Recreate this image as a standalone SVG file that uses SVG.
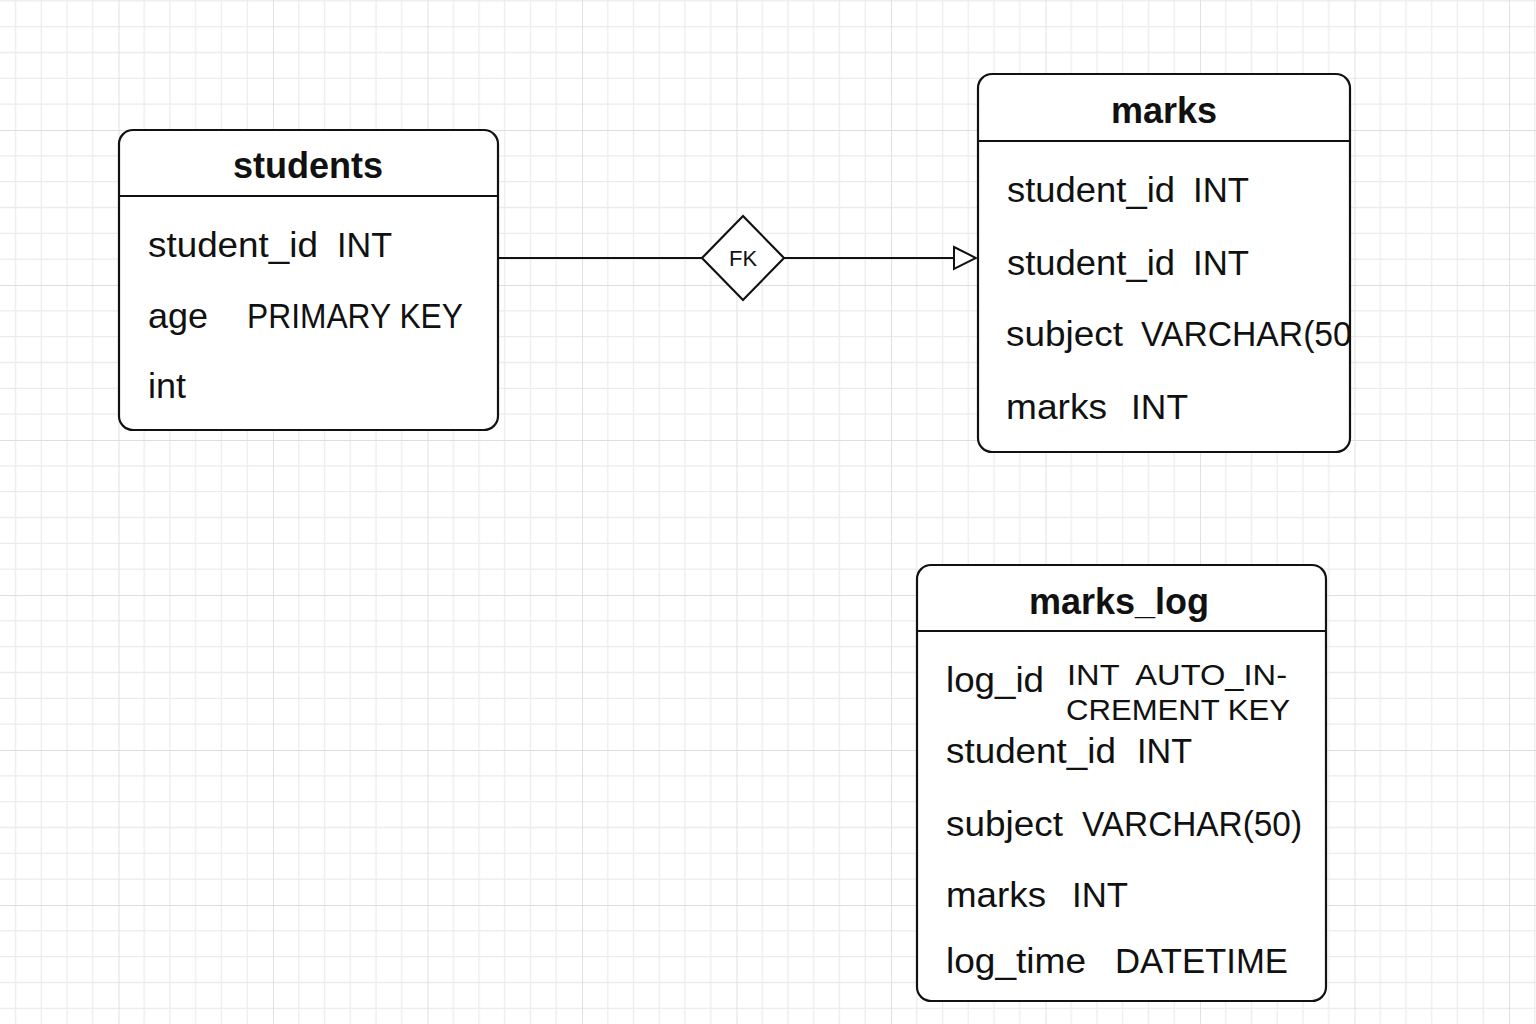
<svg xmlns="http://www.w3.org/2000/svg" width="1536" height="1024" viewBox="0 0 1536 1024">
  <style>
    .box { fill: #ffffff; stroke: #111111; stroke-width: 2.2; }
    .sep { stroke: #111111; stroke-width: 2; }
    .title { font-family: "Liberation Sans", Arial, sans-serif; font-weight: bold; font-size: 36px; fill: #111111; text-anchor: middle; }
    .row { font-family: "Liberation Sans", Arial, sans-serif; font-size: 35px; fill: #111111; }
    .small { font-family: "Liberation Sans", Arial, sans-serif; font-size: 30px; fill: #111111; }
    .conn { stroke: #111111; stroke-width: 2; fill: none; }
    .fk { font-family: "Liberation Sans", Arial, sans-serif; font-size: 22px; fill: #111111; text-anchor: middle; }
  </style>
  <defs>
    <pattern id="grid" x="-36" y="-25" width="154.5" height="155" patternUnits="userSpaceOnUse">
      <path d="M25.75 0V155M51.5 0V155M77.25 0V155M103 0V155M128.75 0V155M0 25.8H154.5M0 51.6H154.5M0 77.5H154.5M0 103.3H154.5M0 129.2H154.5" stroke="#ececec" stroke-width="1.3" fill="none"/>
      <path d="M0 0V155M0 0H154.5" stroke="#dedede" stroke-width="1.8" fill="none"/>
    </pattern>
    <marker id="hollow" viewBox="0 0 24 26" refX="23" refY="13" markerWidth="24" markerHeight="26" markerUnits="userSpaceOnUse" orient="auto">
      <path d="M1 2 L23 13 L1 24 Z" fill="#ffffff" stroke="#111111" stroke-width="2"/>
    </marker>
    <clipPath id="marksClip">
      <rect x="978" y="74" width="374" height="378"/>
    </clipPath>
  </defs>

  <rect width="1536" height="1024" fill="#ffffff"/>
  <rect width="1536" height="1024" fill="url(#grid)"/>

  <g id="connectors">
    <line class="conn" x1="498" y1="258" x2="702" y2="258"/>
    <line class="conn" x1="784" y1="258" x2="976" y2="258" marker-end="url(#hollow)"/>
    <g id="fk-diamond">
      <polygon points="743,216 784,258 743,300 702,258" fill="#ffffff" stroke="#111111" stroke-width="2.2"/>
      <text class="fk" x="743" y="266">FK</text>
    </g>
  </g>

  <g id="students">
    <rect class="box" x="119" y="130" width="379" height="300" rx="14"/>
    <line class="sep" x1="119" y1="196" x2="498" y2="196"/>
    <text class="title" x="308" y="178">students</text>
    <text class="row" x="148" y="257" textLength="170" lengthAdjust="spacingAndGlyphs">student_id</text>
    <text class="row" x="337" y="257" textLength="55" lengthAdjust="spacingAndGlyphs">INT</text>
    <text class="row" x="148" y="328" textLength="60" lengthAdjust="spacingAndGlyphs">age</text>
    <text class="row" x="247" y="328" textLength="216" lengthAdjust="spacingAndGlyphs">PRIMARY KEY</text>
    <text class="row" x="148" y="398" textLength="38" lengthAdjust="spacingAndGlyphs">int</text>
  </g>

  <g id="marks">
    <rect class="box" x="978" y="74" width="372" height="378" rx="14"/>
    <line class="sep" x1="978" y1="141" x2="1350" y2="141"/>
    <text class="title" x="1164" y="123">marks</text>
    <text class="row" x="1007" y="202" textLength="168" lengthAdjust="spacingAndGlyphs">student_id</text>
    <text class="row" x="1193" y="202" textLength="56" lengthAdjust="spacingAndGlyphs">INT</text>
    <text class="row" x="1007" y="275" textLength="168" lengthAdjust="spacingAndGlyphs">student_id</text>
    <text class="row" x="1193" y="275" textLength="56" lengthAdjust="spacingAndGlyphs">INT</text>
    <g clip-path="url(#marksClip)">
      <text class="row" x="1006" y="346" textLength="117" lengthAdjust="spacingAndGlyphs">subject</text>
      <text class="row" x="1141" y="346" textLength="222" lengthAdjust="spacingAndGlyphs">VARCHAR(50)</text>
    </g>
    <text class="row" x="1006" y="419" textLength="101" lengthAdjust="spacingAndGlyphs">marks</text>
    <text class="row" x="1131" y="419" textLength="57" lengthAdjust="spacingAndGlyphs">INT</text>
  </g>

  <g id="marks_log">
    <rect class="box" x="917" y="565" width="409" height="436" rx="14"/>
    <line class="sep" x1="917" y1="631" x2="1326" y2="631"/>
    <text class="title" x="1119" y="614">marks_log</text>
    <text class="row" x="946" y="692" textLength="98" lengthAdjust="spacingAndGlyphs">log_id</text>
    <text class="small" x="1067" y="685" textLength="220" lengthAdjust="spacingAndGlyphs" xml:space="preserve">INT  AUTO_IN-</text>
    <text class="small" x="1066" y="720" textLength="224" lengthAdjust="spacingAndGlyphs">CREMENT KEY</text>
    <text class="row" x="946" y="763" textLength="170" lengthAdjust="spacingAndGlyphs">student_id</text>
    <text class="row" x="1137" y="763" textLength="55" lengthAdjust="spacingAndGlyphs">INT</text>
    <text class="row" x="946" y="836" textLength="117" lengthAdjust="spacingAndGlyphs">subject</text>
    <text class="row" x="1082" y="836" textLength="220" lengthAdjust="spacingAndGlyphs">VARCHAR(50)</text>
    <text class="row" x="946" y="907" textLength="100" lengthAdjust="spacingAndGlyphs">marks</text>
    <text class="row" x="1072" y="907" textLength="56" lengthAdjust="spacingAndGlyphs">INT</text>
    <text class="row" x="946" y="973" textLength="140" lengthAdjust="spacingAndGlyphs">log_time</text>
    <text class="row" x="1115" y="973" textLength="173" lengthAdjust="spacingAndGlyphs">DATETIME</text>
  </g>
</svg>
